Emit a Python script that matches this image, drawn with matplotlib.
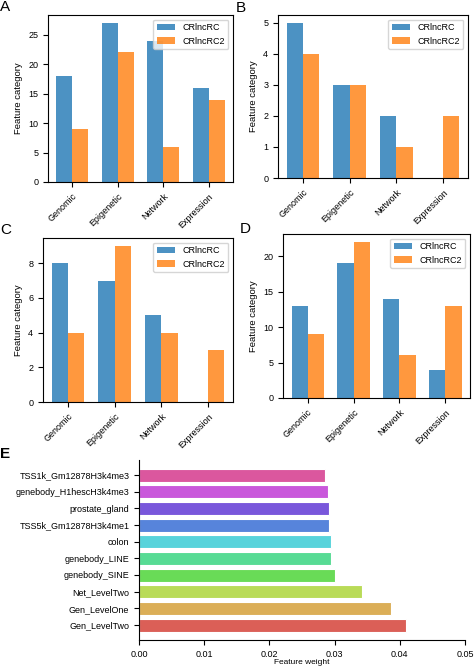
import numpy as np
import matplotlib
matplotlib.use("Agg")
import matplotlib.pyplot as plt
import seaborn as sns

plt.rcParams['font.family'] = ['Liberation Sans', 'DejaVu Sans']

# ------------------------------ data ------------------------------
categories = ["Genomic", "Epigenetic", "Network", "Expression"]
series_names = ["CRlncRC", "CRlncRC2"]

a_crlncrc = [18, 27, 24, 16]
a_crlncrc2 = [9, 22, 6, 14]
b_crlncrc = [5, 3, 2, 0]
b_crlncrc2 = [4, 3, 1, 2]
c_crlncrc = [8, 7, 5, 0]
c_crlncrc2 = [4, 9, 4, 3]
d_crlncrc = [13, 19, 14, 4]
d_crlncrc2 = [9, 22, 6, 13]

# panel E, bottom to top
features = ["Gen_LevelTwo", "Gen_LevelOne", "Net_LevelTwo", "genebody_SINE",
            "genebody_LINE", "colon", "TSS5k_Gm12878H3k4me1", "prostate_gland",
            "genebody_H1hescH3k4me3", "TSS1k_Gm12878H3k4me3"]
weights = [0.0410, 0.0386, 0.0342, 0.0301, 0.0295, 0.0295, 0.0292, 0.0291,
           0.0290, 0.0286]

W, H = 474, 667
fig = plt.figure(figsize=(W / 100, H / 100), dpi=100)


def box(l, t, r, b):
    # pixel box -> figure fraction
    return [l / W, 1 - b / H, (r - l) / W, (b - t) / H]


def group_bars(ax, v1, v2, letter, lx, ly):
    x = np.arange(len(categories))
    width = 0.35
    ax.bar(x - width / 2, v1, width, label=series_names[0], color="tab:blue", alpha=0.8)
    ax.bar(x + width / 2, v2, width, label=series_names[1], color="tab:orange", alpha=0.8)
    ax.set_xticks(x)
    ax.set_xticklabels(categories, rotation=45, ha="right", rotation_mode="anchor")
    ax.set_ylabel("Feature category", fontsize=6.8)
    ax.tick_params(labelsize=6.5, length=3.5, width=0.8)
    ax.legend(fontsize=6.5, loc="upper right")
    fig.text(lx / W, 1 - ly / H, letter, fontsize=11, va="center", ha="left")


axA = fig.add_axes(box(48, 15, 233, 182))
group_bars(axA, a_crlncrc, a_crlncrc2, "A", 0, 7)
axB = fig.add_axes(box(278, 15, 468, 178))
group_bars(axB, b_crlncrc, b_crlncrc2, "B", 236, 8)
axC = fig.add_axes(box(43, 238, 233, 402))
group_bars(axC, c_crlncrc, c_crlncrc2, "C", 0, 230)
axD = fig.add_axes(box(283, 234, 470, 398))
group_bars(axD, d_crlncrc, d_crlncrc2, "D", 240, 229)

# ------------------------------ panel E ------------------------------
axE = fig.add_axes(box(139, 460, 465, 640))
pal = sns.color_palette("hls", len(features))
y = np.arange(len(features))
axE.barh(y, weights, height=0.78, color=pal, edgecolor="white", linewidth=0.8)
axE.set_yticks(y)
axE.set_yticklabels(features)
axE.set_ylim(-0.9, len(features) - 0.1)
axE.set_xlim(0, 0.05)
axE.set_xticks([0.0, 0.01, 0.02, 0.03, 0.04, 0.05])
axE.set_xticklabels(["0.00", "0.01", "0.02", "0.03", "0.04", "0.05"])
axE.set_xlabel("Feature weight", fontsize=6, labelpad=0.5)
axE.tick_params(labelsize=6.5, length=3.5, width=0.8)
axE.spines["top"].set_visible(False)
axE.spines["right"].set_visible(False)
fig.text(0 / W, 1 - 454 / H, "E", fontsize=11, va="center", ha="left", fontweight="bold")

fig.savefig("out.png", dpi=100)
